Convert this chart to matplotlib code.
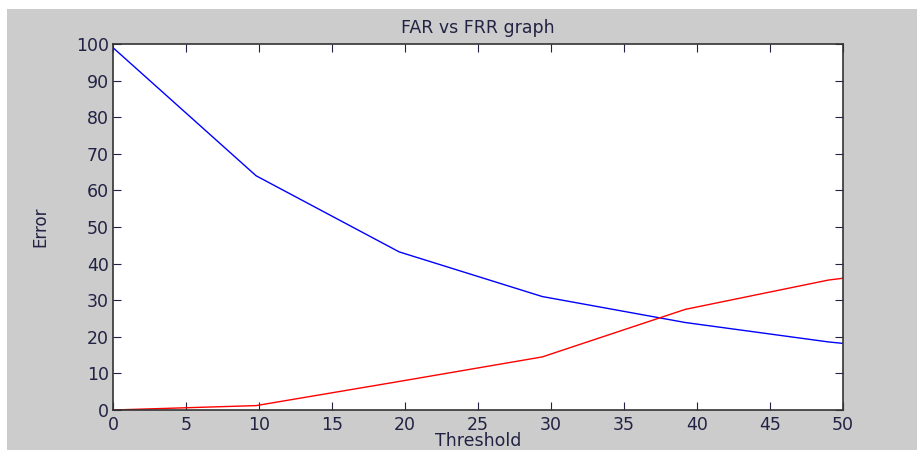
import matplotlib
matplotlib.use('Agg')
import matplotlib.pyplot as plt
from matplotlib.patches import Rectangle

plt.rcParams['font.family'] = ['DejaVu Sans']

# threshold values where the curves were sampled
threshold = [0, 9.8, 19.6, 29.4, 39.2, 49, 50]
frr = [99, 64, 43.2, 31, 23.9, 18.6, 18.2]   # blue
far = [0, 1.2, 7.8, 14.5, 27.5, 35.5, 36]    # red

fig = plt.figure(figsize=(9.17, 4.5), dpi=100)
fig.patch.set_facecolor('white')
# matlab style gray figure area
bg = Rectangle((7 / 917, 0), 1, 441 / 450, transform=fig.transFigure,
               facecolor='#cccccc', edgecolor='none', zorder=-10)
fig.add_artist(bg)

ax = fig.add_axes([113 / 917, 40 / 450, 730 / 917, 366 / 450])
ax.plot(threshold, frr, color='blue', linewidth=1)
ax.plot(threshold, far, color='red', linewidth=1)

ax.set_xlim(0, 50)
ax.set_ylim(0, 100)
ax.set_xticks(range(0, 51, 5))
ax.set_yticks(range(0, 101, 10))
ax.tick_params(direction='in', top=True, right=True, length=6, labelsize=12.5,
               colors='#222244')
ax.tick_params(axis='x', pad=4)
ax.tick_params(axis='y', pad=3)
for s in ax.spines.values():
    s.set_color('#333333')
    s.set_linewidth(1.2)

ax.set_title('FAR vs FRR graph', fontsize=12.5, pad=8, color='#222244')
ax.set_xlabel('Threshold', fontsize=12.5, labelpad=-1, color='#222244')
ax.set_ylabel('Error', fontsize=12, labelpad=19, color='#222244')

fig.savefig('out.png', dpi=100)
